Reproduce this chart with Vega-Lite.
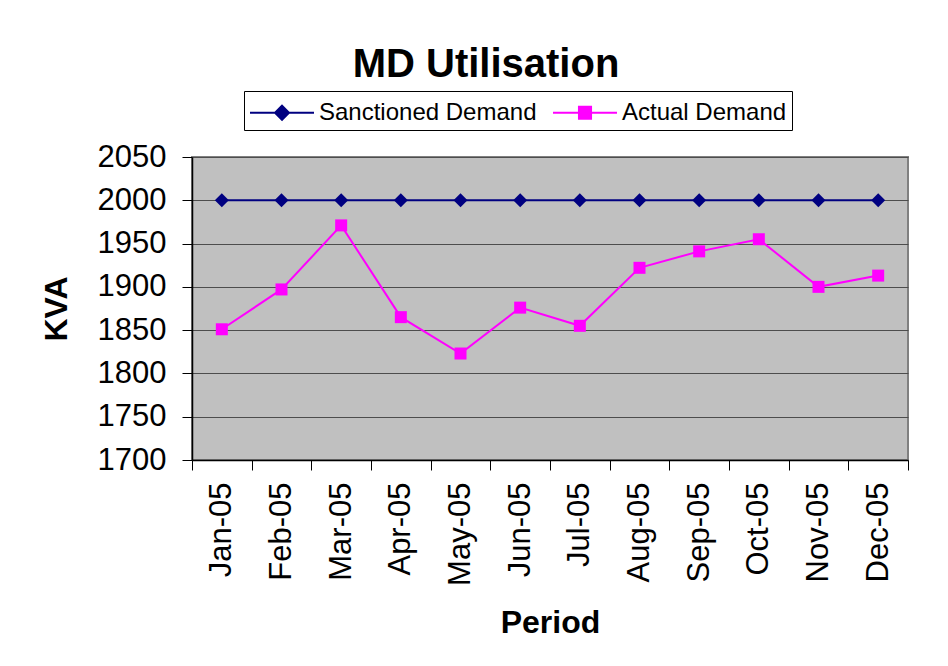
{
  "$schema": "https://vega.github.io/schema/vega-lite/v6.json",
  "width": 716,
  "height": 303,
  "autosize": {"type": "none"},
  "padding": {"left": 192, "top": 157, "right": 40, "bottom": 206},
  "background": "white",
  "title": {
    "text": "MD Utilisation",
    "font": "Liberation Sans",
    "fontSize": 40,
    "fontWeight": "bold",
    "color": "black",
    "anchor": "middle",
    "frame": "group",
    "dx": -64,
    "offset": 6
  },
  "config": {
    "font": "Liberation Sans",
    "view": {"fill": "#C0C0C0", "stroke": "#808080", "strokeWidth": 2}
  },
  "data": {
    "values": [
      {"month": "Jan-05", "series": "Sanctioned Demand", "kva": 2000},
      {"month": "Jan-05", "series": "Actual Demand", "kva": 1851},
      {"month": "Feb-05", "series": "Sanctioned Demand", "kva": 2000},
      {"month": "Feb-05", "series": "Actual Demand", "kva": 1897},
      {"month": "Mar-05", "series": "Sanctioned Demand", "kva": 2000},
      {"month": "Mar-05", "series": "Actual Demand", "kva": 1971},
      {"month": "Apr-05", "series": "Sanctioned Demand", "kva": 2000},
      {"month": "Apr-05", "series": "Actual Demand", "kva": 1865},
      {"month": "May-05", "series": "Sanctioned Demand", "kva": 2000},
      {"month": "May-05", "series": "Actual Demand", "kva": 1823},
      {"month": "Jun-05", "series": "Sanctioned Demand", "kva": 2000},
      {"month": "Jun-05", "series": "Actual Demand", "kva": 1876},
      {"month": "Jul-05", "series": "Sanctioned Demand", "kva": 2000},
      {"month": "Jul-05", "series": "Actual Demand", "kva": 1855},
      {"month": "Aug-05", "series": "Sanctioned Demand", "kva": 2000},
      {"month": "Aug-05", "series": "Actual Demand", "kva": 1922},
      {"month": "Sep-05", "series": "Sanctioned Demand", "kva": 2000},
      {"month": "Sep-05", "series": "Actual Demand", "kva": 1941},
      {"month": "Oct-05", "series": "Sanctioned Demand", "kva": 2000},
      {"month": "Oct-05", "series": "Actual Demand", "kva": 1955},
      {"month": "Nov-05", "series": "Sanctioned Demand", "kva": 2000},
      {"month": "Nov-05", "series": "Actual Demand", "kva": 1900},
      {"month": "Dec-05", "series": "Sanctioned Demand", "kva": 2000},
      {"month": "Dec-05", "series": "Actual Demand", "kva": 1913}
    ]
  },
  "encoding": {
    "x": {
      "field": "month",
      "type": "nominal",
      "sort": null,
      "title": "Period",
      "axis": {
        "tickBand": "extent",
        "labelAngle": -90,
        "labelFontSize": 31,
        "labelColor": "black",
        "labelPadding": 12,
        "tickSize": 10,
        "tickColor": "black",
        "domainColor": "black",
        "domainWidth": 1.5,
        "grid": false,
        "titleFontSize": 32,
        "titleFontWeight": "bold",
        "titleColor": "black",
        "titlePadding": 22
      }
    },
    "y": {
      "field": "kva",
      "type": "quantitative",
      "title": "KVA",
      "scale": {"domain": [1700, 2050], "zero": false, "nice": false},
      "axis": {
        "values": [1700, 1750, 1800, 1850, 1900, 1950, 2000, 2050],
        "format": "d",
        "labelFontSize": 31,
        "labelColor": "black",
        "labelPadding": 16,
        "tickSize": 10,
        "tickColor": "black",
        "domainColor": "black",
        "domainWidth": 1.5,
        "grid": true,
        "gridColor": "#4d4d4d",
        "gridWidth": 1,
        "titleFontSize": 32,
        "titleFontWeight": "bold",
        "titleColor": "black",
        "titlePadding": 24
      }
    },
    "color": {
      "field": "series",
      "type": "nominal",
      "scale": {"domain": ["Sanctioned Demand", "Actual Demand"], "range": ["#000080", "#FF00FF"]},
      "legend": {
        "title": null,
        "orient": "none",
        "legendX": 52,
        "legendY": -66,
        "direction": "horizontal",
        "padding": 5,
        "strokeColor": "black",
        "fillColor": "white",
        "labelFontSize": 24,
        "labelColor": "black",
        "labelLimit": 0,
        "labelOffset": 37,
        "columnPadding": 12,
        "symbolSize": 961,
        "encode": {
          "symbols": {
            "enter": {
              "shape": {"signal": "datum.value === 'Sanctioned Demand' ? 'M-1,0L3.13,0M1.065,-0.45L1.515,0L1.065,0.45L0.615,0Z' : 'M-1,0L3.13,0M0.675,-0.39L1.455,-0.39L1.455,0.39L0.675,0.39Z'"}
            },
            "update": {
              "shape": {"signal": "datum.value === 'Sanctioned Demand' ? 'M-1,0L3.13,0M1.065,-0.45L1.515,0L1.065,0.45L0.615,0Z' : 'M-1,0L3.13,0M0.675,-0.39L1.455,-0.39L1.455,0.39L0.675,0.39Z'"},
              "fill": {"signal": "datum.value === 'Sanctioned Demand' ? '#000080' : '#FF00FF'"},
              "stroke": {"signal": "datum.value === 'Sanctioned Demand' ? '#000080' : '#FF00FF'"},
              "strokeWidth": {"value": 2},
              "opacity": {"value": 1},
              "fillOpacity": {"value": 1},
              "strokeOpacity": {"value": 1}
            }
          }
        }
      }
    }
  },
  "layer": [
    {
      "mark": {"type": "line", "strokeWidth": 2}
    },
    {
      "transform": [{"filter": "datum.series === 'Sanctioned Demand'"}],
      "mark": {"type": "point", "filled": true, "opacity": 1, "shape": "diamond", "size": 196}
    },
    {
      "transform": [{"filter": "datum.series === 'Actual Demand'"}],
      "mark": {"type": "point", "filled": true, "opacity": 1, "shape": "square", "size": 144}
    }
  ]
}
